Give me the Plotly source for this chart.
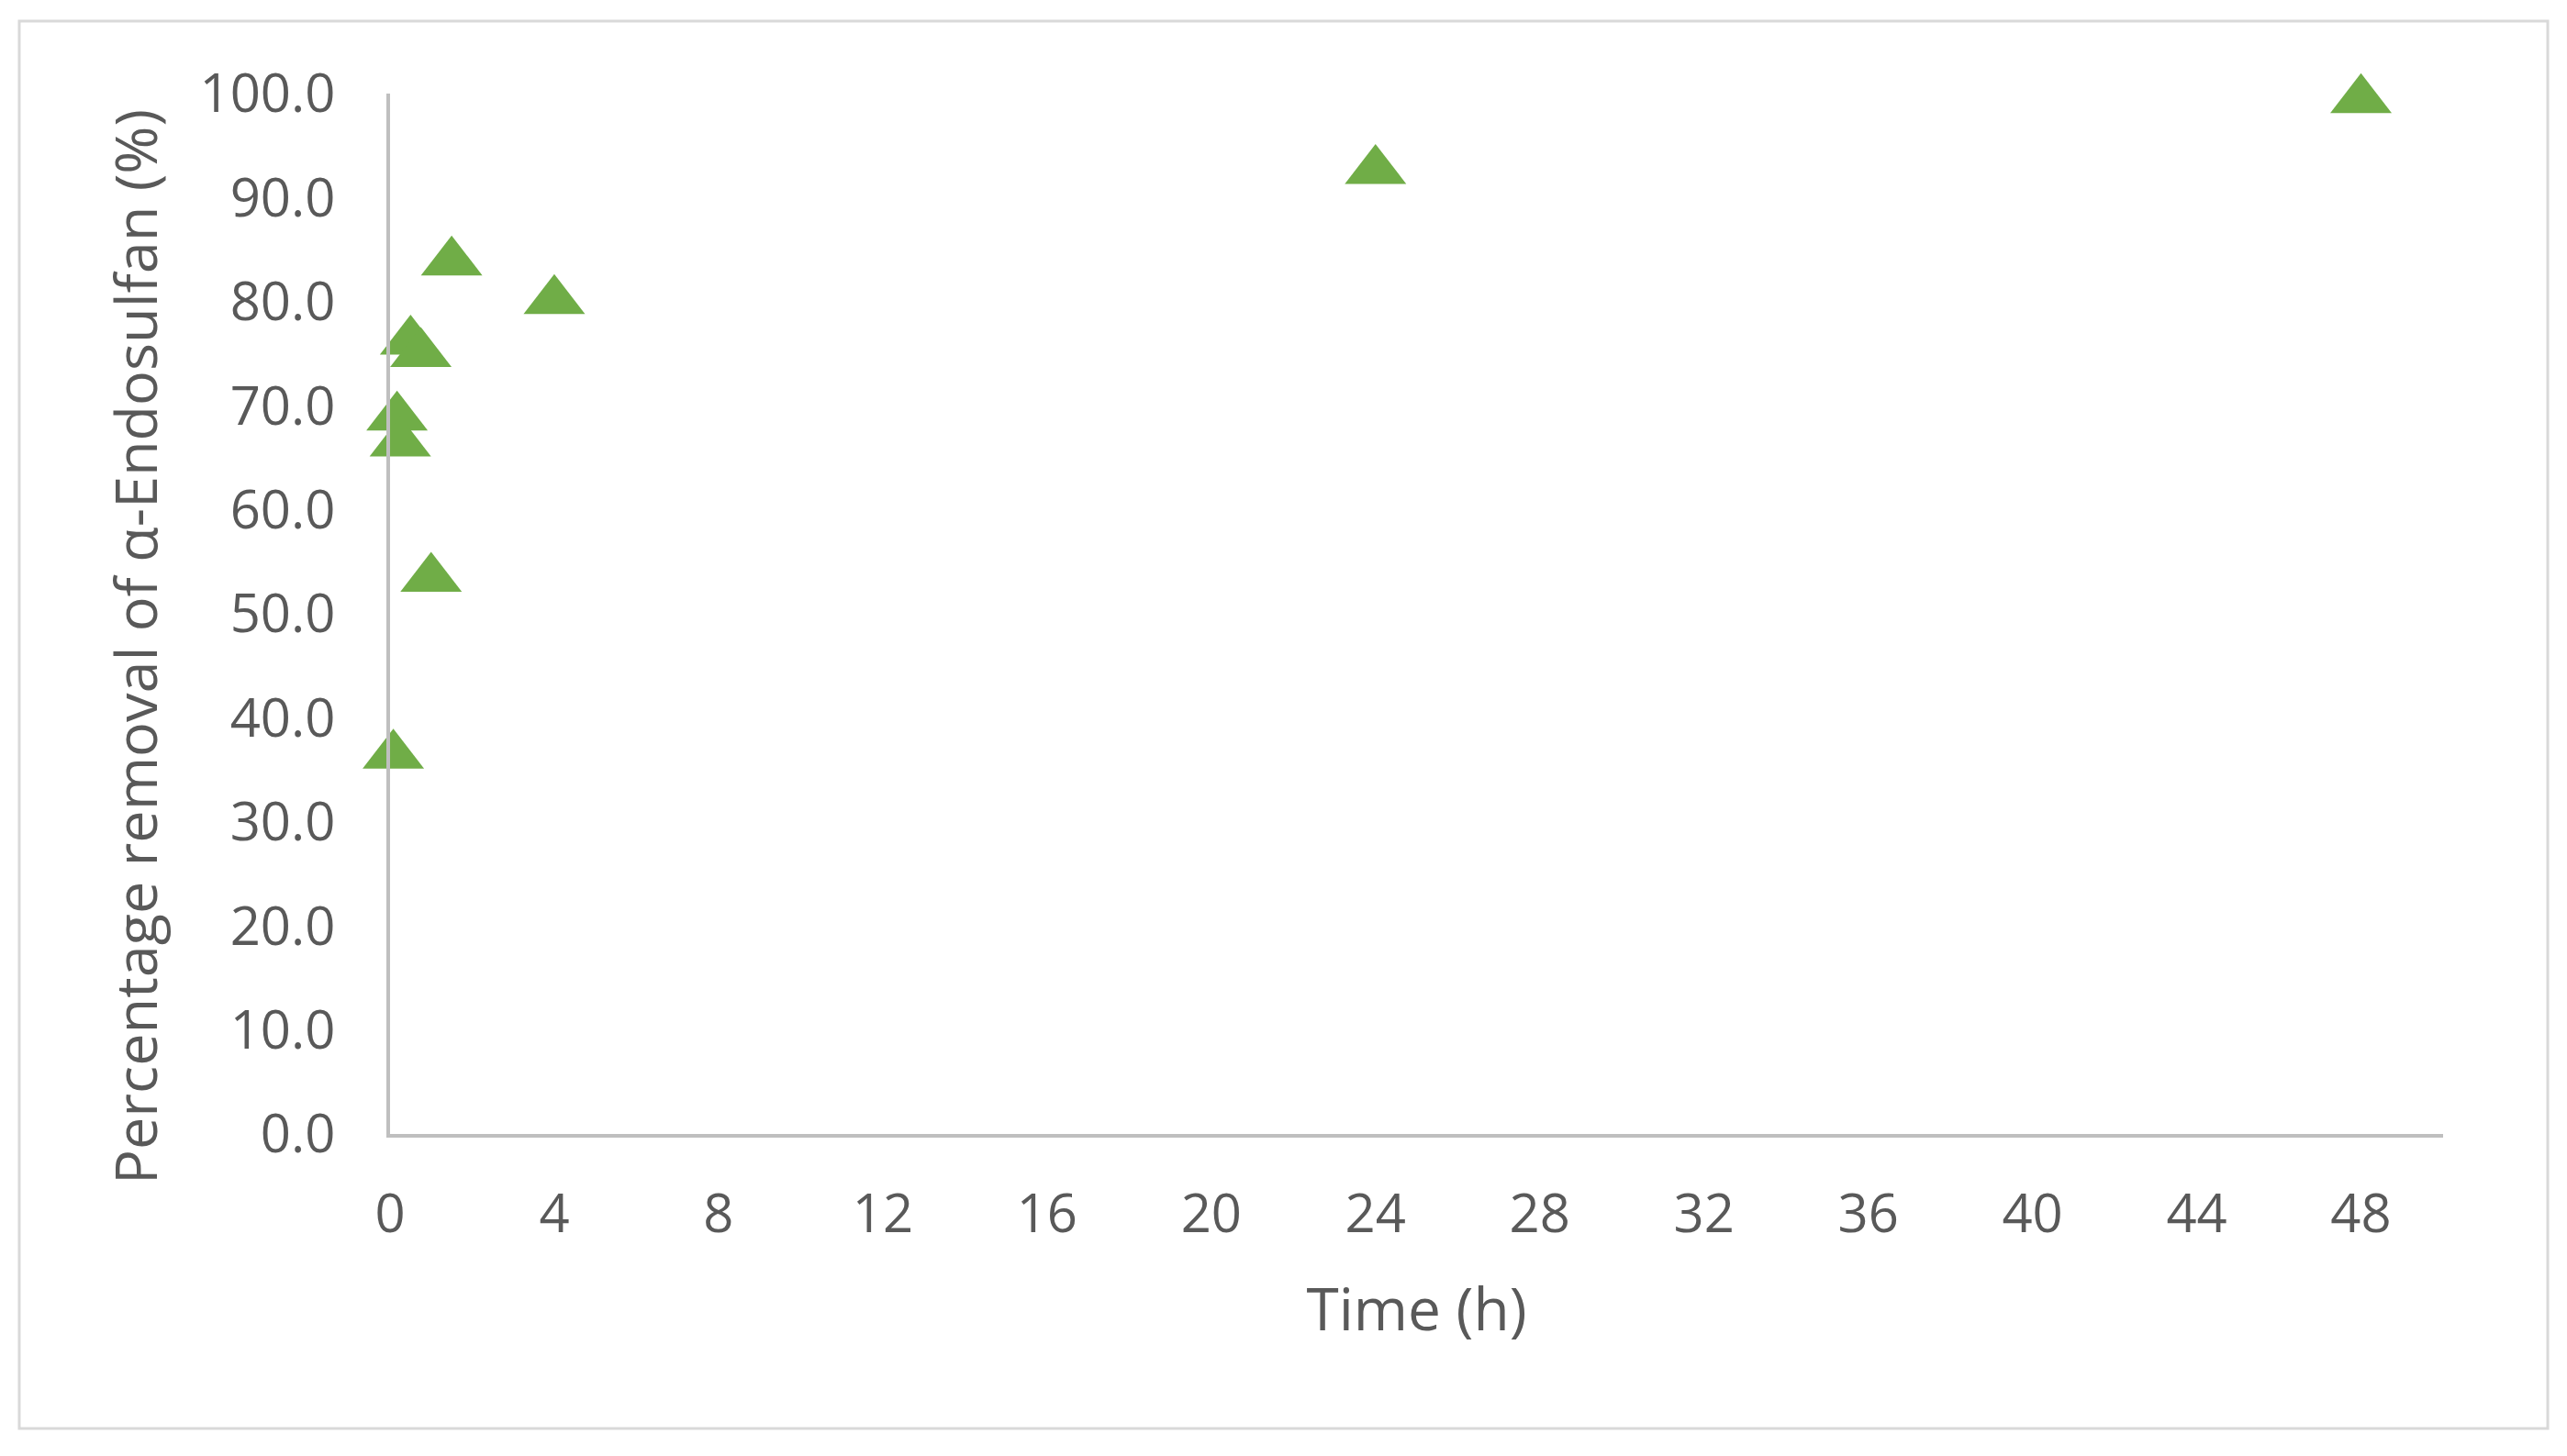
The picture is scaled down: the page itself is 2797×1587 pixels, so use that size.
import plotly.graph_objects as go

time_h = [0.08, 0.17, 0.25, 0.5, 0.75, 1.0, 1.5, 4.0, 24.0, 48.0]
removal_pct = [36.4, 68.9, 66.4, 76.2, 75.0, 53.4, 83.8, 80.1, 92.6, 99.4]

x_title = "Time (h)"
y_title = "Percentage removal of α-Endosulfan (%)"

# page has an 8px body margin; figure is sized to fit the window
W, H = 2789, 1579
L, R, T, B = 417, 135, 94, 351
pw, ph = W - L - R, H - T - B

fig = go.Figure()
fig.add_trace(go.Scatter(
    x=time_h, y=removal_pct, mode="markers",
    marker=dict(symbol="triangle-up", size=58, color="#70AD47",
                line=dict(width=0)),
    cliponaxis=False, showlegend=False,
))

font_family = "Open Sans"
fig.update_layout(
    width=W, height=H,
    margin=dict(l=L, r=R, t=T, b=B, autoexpand=False),
    paper_bgcolor="white", plot_bgcolor="white",
    font=dict(family=font_family, color="#595959"),
    xaxis=dict(range=[0, 50], tick0=0, dtick=4, showgrid=False, zeroline=False,
               showline=True, linecolor="#BFBFBF", linewidth=4,
               ticks="", ticklabelstandoff=33,
               tickfont=dict(size=58, color="#595959"),
               title=dict(text=x_title, font=dict(size=64, color="#595959"), standoff=48),
               automargin=False),
    yaxis=dict(range=[0, 100], tick0=0, dtick=10, tickformat=".1f", showgrid=False,
               zeroline=False, showline=True, linecolor="#BFBFBF", linewidth=4,
               ticks="", ticklabelstandoff=44,
               tickfont=dict(size=58, color="#595959"),
               automargin=False),
)

# y-axis title, placed as in the reference (slightly below the plot centre)
fig.add_annotation(text=y_title, textangle=-90, showarrow=False,
                   xref="paper", yref="paper",
                   x=(138 - L) / pw, y=(T + ph - 697) / ph,
                   xanchor="center", yanchor="middle",
                   font=dict(size=63, color="#595959", family=font_family))

# outer chart border
fig.add_shape(type="rect", xref="paper", yref="paper",
              x0=(13 - L) / pw, x1=(2768 - L) / pw,
              y0=(T + ph - 1549) / ph, y1=(T + ph - 15) / ph,
              line=dict(color="#D9D9D9", width=3), fillcolor="rgba(0,0,0,0)", layer="below")

fig.write_html("out.html")
